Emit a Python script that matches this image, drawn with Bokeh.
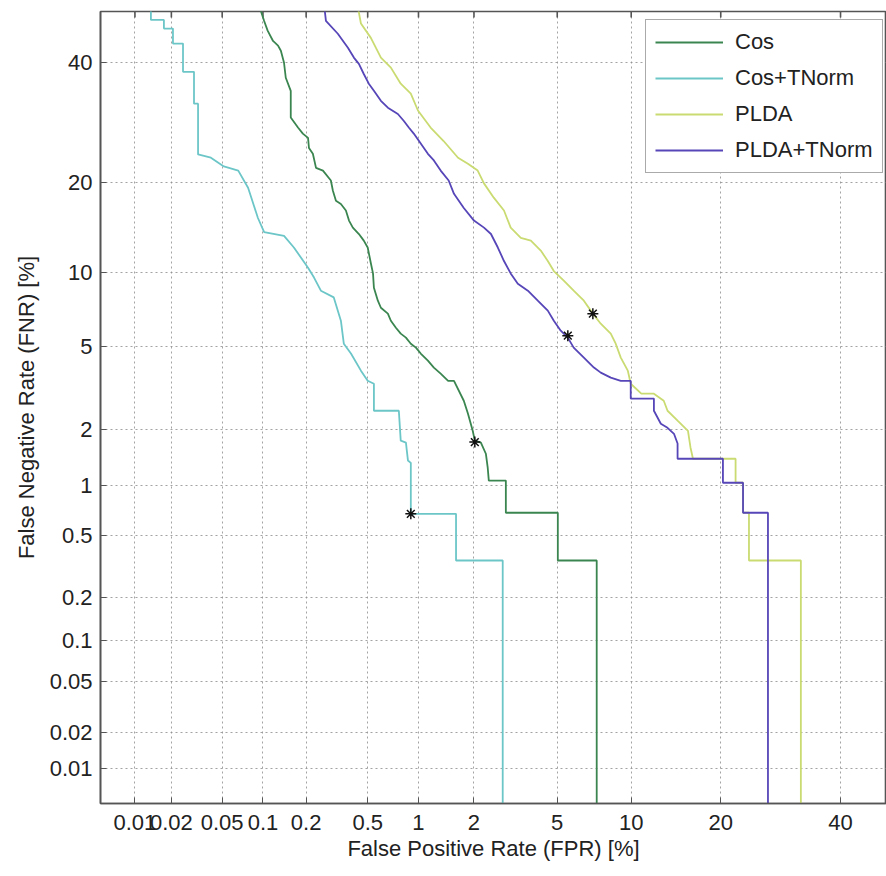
from statistics import NormalDist
from bokeh.plotting import figure
from bokeh.models import FixedTicker, Legend, LegendItem, Range1d
from bokeh.embed import file_html
from bokeh.resources import INLINE

# ---------------- data (percent) ----------------
tick_values = [0.01, 0.02, 0.05, 0.1, 0.2, 0.5, 1, 2, 5, 10, 20, 40]
tick_labels = ["0.01", "0.02", "0.05", "0.1", "0.2", "0.5", "1", "2", "5", "10", "20", "40"]

cos_fpr = [0.092, 0.097, 0.102, 0.108, 0.118, 0.128, 0.134, 0.141, 0.145, 0.157,
           0.157, 0.176, 0.19, 0.206, 0.209, 0.222, 0.233, 0.259, 0.292, 0.301,
           0.315, 0.339, 0.365, 0.382, 0.404, 0.441, 0.473, 0.50, 0.523, 0.539,
           0.546, 0.577, 0.602, 0.663, 0.691, 0.74, 0.79, 0.847, 0.904, 0.967,
           1.03, 1.13, 1.22, 1.33, 1.46, 1.57, 1.77, 1.86, 1.97, 2.02,
           2.17, 2.30, 2.35, 2.38, 2.89, 2.89, 5.03, 5.03, 7.34, 7.34]
cos_fnr = [60, 49.9, 48.1, 46.2, 44.2, 43.3, 42.3, 40.0, 37.2, 34.8,
           30.1, 28.4, 27.4, 26.7, 25.1, 24.2, 22.1, 21.7, 20.3, 18.9,
           17.6, 17.2, 16.4, 15.2, 14.4, 13.7, 13.0, 12.3, 10.8, 9.9,
           8.73, 7.76, 7.27, 6.88, 6.43, 6.01, 5.67, 5.45, 5.13, 4.93,
           4.64, 4.31, 4.01, 3.76, 3.48, 3.48, 2.79, 2.41, 1.97, 1.75,
           1.71, 1.49, 1.25, 1.06, 1.06, 0.69, 0.69, 0.35, 0.35, 0.0001]

cost_fpr = [0.0136, 0.0136, 0.0174, 0.0174, 0.0206, 0.0206, 0.0248, 0.0248, 0.0303, 0.0303,
            0.0326, 0.0326, 0.041, 0.0515, 0.066, 0.078, 0.092, 0.102, 0.141, 0.165,
            0.206, 0.226, 0.251, 0.305, 0.339, 0.354, 0.393, 0.454, 0.50, 0.546,
            0.546, 0.77, 0.79, 0.847, 0.87, 0.904, 0.904, 1.61, 1.61, 2.79, 2.79]
cost_fnr = [60, 48.3, 48.3, 46.6, 46.6, 43.7, 43.7, 38.3, 38.3, 32.5,
            32.5, 24.1, 23.6, 22.3, 21.7, 19.3, 15.5, 13.9, 13.5, 12.3,
            10.4, 9.55, 8.5, 8.0, 6.43, 5.13, 4.64, 3.88, 3.48, 3.37,
            2.49, 2.49, 1.75, 1.71, 1.37, 1.33, 0.68, 0.68, 0.35, 0.35, 0.0001]

plda_fpr = [0.382, 0.454, 0.523, 0.602, 0.691, 0.79, 0.904, 0.993, 1.17, 1.38,
            1.65, 1.86, 2.09, 2.25, 2.52, 2.83, 3.05, 3.41, 3.80, 4.22,
            4.54, 4.83, 5.34, 5.89, 6.50, 7.08, 7.62, 8.35, 8.73, 9.13,
            9.71, 9.96, 10.9, 12.1, 13.1, 13.5, 14.6, 15.8, 16.1, 16.4,
            22.1, 22.1, 23.2, 23.2, 24.1, 24.1, 32.7, 32.7]
plda_fnr = [60, 47.6, 44.8, 41.0, 39.1, 36.1, 34.3, 31.3, 28.4, 26.2,
            23.6, 22.7, 21.7, 19.9, 18.0, 16.4, 14.4, 13.3, 13.0, 12.0,
            11.0, 10.1, 9.3, 8.5, 7.76, 6.88, 6.25, 5.67, 5.13, 4.45,
            3.88, 3.37, 3.02, 3.02, 2.79, 2.49, 2.22, 1.97, 1.61, 1.40,
            1.40, 1.03, 1.03, 0.69, 0.69, 0.35, 0.35, 0.0001]

pldat_fpr = [0.244, 0.271, 0.324, 0.376, 0.41, 0.441, 0.473, 0.508, 0.546, 0.602,
             0.663, 0.76, 0.824, 0.88, 0.94, 1.03, 1.13, 1.22, 1.33, 1.47,
             1.57, 1.77, 2.00, 2.25, 2.44, 2.64, 2.83, 3.05, 3.30, 3.68,
             4.09, 4.54, 4.83, 5.18, 5.56, 5.89, 6.50, 7.15, 7.62, 8.35,
             9.13, 9.96, 9.96, 12.1, 12.1, 12.8, 13.5, 14.2, 14.6, 14.6,
             20.3, 20.3, 23.2, 23.2, 27.1, 27.1]
pldat_fnr = [60, 48.1, 45.6, 42.9, 41.0, 39.8, 37.9, 36.1, 34.8, 33.0,
             31.8, 30.7, 29.5, 28.4, 27.4, 25.8, 24.2, 23.2, 21.7, 20.3,
             18.5, 16.7, 15.2, 14.4, 13.7, 12.3, 11.0, 9.9, 9.05, 8.5,
             7.76, 7.08, 6.43, 5.84, 5.45, 4.93, 4.45, 4.01, 3.80, 3.60,
             3.48, 3.48, 2.86, 2.86, 2.49, 2.14, 2.04, 1.90, 1.69, 1.40,
             1.40, 1.03, 1.03, 0.69, 0.69, 0.0001]

star_fpr = [2.02, 0.904, 7.08, 5.56]
star_fnr = [1.72, 0.68, 6.88, 5.56]

series_names = ["Cos", "Cos+TNorm", "PLDA", "PLDA+TNorm"]
series_colors = ["#3b8650", "#6cc6c8", "#cadb72", "#5646b8"]

# axis limits (percent)
x_lo, x_hi = 0.00505, 48.9
y_lo, y_hi = 0.00501, 49.95

# ---------------- probit mapping ----------------
_nd = NormalDist()


def probit(vals):
    return [_nd.inv_cdf(v / 100.0) for v in vals]


FONT = "Liberation Sans"
FS = "22px"

p = figure(width=886, height=868, output_backend="svg", toolbar_location=None,
           x_range=Range1d(probit([x_lo])[0], probit([x_hi])[0]),
           y_range=Range1d(probit([y_lo])[0], probit([y_hi])[0]),
           min_border_left=100, min_border_right=0, min_border_top=11, min_border_bottom=65,
           x_axis_label="False Positive Rate (FPR) [%]",
           y_axis_label="False Negative Rate (FNR) [%]")
p.outline_line_color = "#555555"
p.outline_line_width = 1.6
p.background_fill_color = "white"
p.border_fill_color = "white"

tick_pos = probit(tick_values)
overrides = {t: l for t, l in zip(tick_pos, tick_labels)}

for ax in (p.xaxis[0], p.yaxis[0]):
    ax.ticker = FixedTicker(ticks=tick_pos, minor_ticks=[])
    ax.major_label_overrides = overrides
    ax.major_label_text_font = FONT
    ax.major_label_text_font_size = FS
    ax.major_label_text_color = "#222222"
    ax.axis_label_text_font = FONT
    ax.axis_label_text_font_size = FS
    ax.axis_label_text_font_style = "normal"
    ax.axis_label_text_color = "#222222"
    ax.axis_line_color = "#555555"
    ax.axis_line_width = 1.6
    ax.major_tick_line_color = "#555555"
    ax.major_tick_in = 6
    ax.major_tick_out = 0
    ax.minor_tick_line_color = None

p.xaxis[0].major_label_standoff = 11
p.xaxis[0].axis_label_standoff = 3
p.yaxis[0].major_label_standoff = 8
p.yaxis[0].axis_label_standoff = 8

for g in (p.xgrid[0], p.ygrid[0]):
    g.grid_line_color = "#8c8c8c"
    g.grid_line_dash = "2 3"
    g.grid_line_width = 1
    g.grid_line_alpha = 0.8

# tick marks along the top edge (inward), half clipped by the frame
y_top = probit([y_hi])[0]
p.scatter(tick_pos, [y_top] * len(tick_pos), marker="dash", angle=1.5708, size=12,
          line_color="#555555", line_width=1.6)

renderers = []
for fpr, fnr, col in zip([cos_fpr, cost_fpr, plda_fpr, pldat_fpr],
                         [cos_fnr, cost_fnr, plda_fnr, pldat_fnr], series_colors):
    r = p.line(probit(fpr), probit(fnr), line_color=col, line_width=1.8)
    renderers.append(r)

p.scatter(probit(star_fpr), probit(star_fnr), marker="asterisk", size=11,
          line_color="#111111", line_width=1.5)

legend = Legend(items=[LegendItem(label=n, renderers=[r]) for n, r in zip(series_names, renderers)],
                location=(545, 630))
legend.label_text_font = FONT
legend.label_text_font_size = FS
legend.label_text_color = "#222222"
legend.glyph_width = 68
legend.glyph_height = 22
legend.label_height = 22
legend.label_standoff = 12
legend.spacing = 10
legend.padding = 9
legend.margin = 0
legend.border_line_color = "#555555"
legend.border_line_width = 1.6
legend.background_fill_color = "white"
legend.background_fill_alpha = 1.0
p.add_layout(legend)

open("out.html", "w").write(file_html(p, INLINE))
